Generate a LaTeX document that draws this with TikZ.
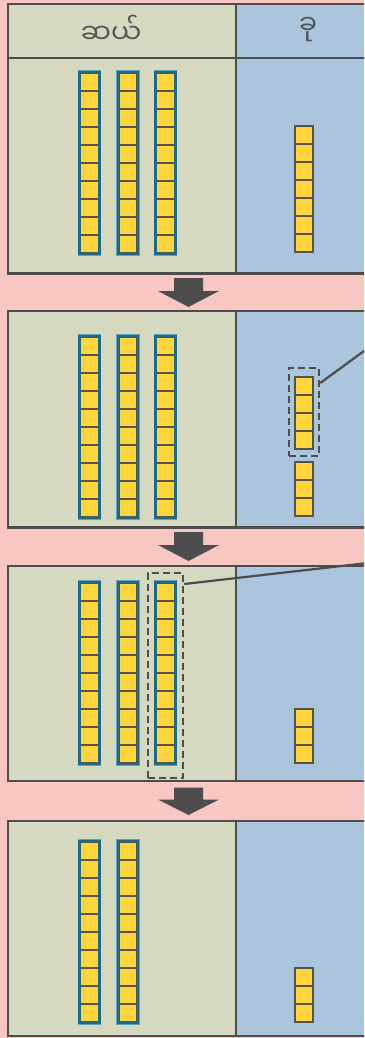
\documentclass[tikz,border=0pt]{standalone}
\usepackage{fontspec}
\newfontfamily\myan[Script=Myanmar]{Noto Sans Myanmar UI}
\definecolor{bgpink}{HTML}{F9C7C1}
\definecolor{tanfill}{HTML}{D5D9C0}
\definecolor{bluefill}{HTML}{ABC5DC}
\definecolor{edgegray}{HTML}{4D4D4D}
\definecolor{yel}{HTML}{FFD43D}
\definecolor{cellline}{HTML}{555550}
\definecolor{rodedge}{HTML}{1D6A86}
\definecolor{rodhalo}{HTML}{5FA3B6}
\definecolor{textgray}{HTML}{555555}
\tikzset{
  panelbox/.style={draw=edgegray, line width=2.4pt},
  cellbox/.style={fill=yel, draw=cellline, line width=1.1pt},
  dashbox/.style={draw=edgegray, line width=2.5pt, dash pattern=on 7pt off 4pt, inner sep=0pt},
  callout/.style={draw=edgegray, line width=2.2pt},
  downarrow/.style={fill=edgegray},
  headtext/.style={font=\myan\fontsize{27}{30}\selectfont, text=textgray, inner sep=0pt}
}
% rod: center x, top y
\newcommand{\tenrod}[2]{%
  \draw[rodhalo, line width=3.8pt] (#1-10,#2-1) rectangle (#1+10,#2+181);
  \foreach \k in {0,...,9}{\draw[cellbox] (#1-9,#2+18*\k) rectangle (#1+9,#2+18*\k+18);}
  \draw[rodedge, line width=2.2pt] (#1-10,#2-1) rectangle (#1+10,#2+181);
}
% units: center x, top y, count
\newcommand{\unitcol}[3]{%
  \foreach \k in {1,...,#3}{\draw[cellbox] (#1-9,#2+18*\k-18) rectangle (#1+9,#2+18*\k);}
}
\newcommand{\downarr}[3]{%
  \fill[downarrow] (174,#1) -- (203,#1) -- (203,#2) -- (219,#2) -- (188.5,#3) -- (158,#2) -- (174,#2) -- cycle;
}
\begin{document}
\begin{tikzpicture}[x=1pt,y=-1pt]
\useasboundingbox (0,0) rectangle (364,1038);
\clip (0,0) rectangle (364,1038);
\fill[bgpink] (0,0) rectangle (364,1038);
% header
\draw[panelbox, fill=tanfill] (8,4) rectangle (236,58);
\draw[panelbox, fill=bluefill] (236,4) rectangle (400,58);
\node[headtext] (hten) at (111,29) {ဆယ်};
\node[headtext] (hone) at (308,30) {ခု};
% panels
\foreach \t/\b in {58/273.5, 311/527.5, 566/781, 821/1036}{
  \draw[panelbox, fill=tanfill] (8,\t) rectangle (236,\b);
  \draw[panelbox, fill=bluefill] (236,\t) rectangle (400,\b);
}
% arrows
\downarr{278}{291}{307}
\downarr{532}{545}{561}
\downarr{787.5}{799.5}{815}
% panel 1
\tenrod{89.5}{73}\tenrod{128}{73}\tenrod{165.5}{73}
\unitcol{304}{126}{7}
% panel 2
\tenrod{89.5}{337}\tenrod{128}{337}\tenrod{165.5}{337}
\unitcol{304}{377}{4}
\unitcol{304}{462}{3}
\node[dashbox, minimum width=30pt, minimum height=88pt] (grpA) at (304,412) {};
\coordinate (endA) at (420,310);
\draw[callout] (grpA.east |- 0,383) -- (endA);
% panel 3
\tenrod{89.5}{583}\tenrod{128}{583}\tenrod{165.5}{583}
\unitcol{304}{709}{3}
\node[dashbox, minimum width=35pt, minimum height=205pt] (grpB) at (165.5,675.5) {};
\coordinate (endB) at (420,557);
\draw[callout] (grpB.east |- 0,584) -- (endB);
% panel 4
\tenrod{89.5}{842}\tenrod{128}{842}
\unitcol{304}{968}{3}
\end{tikzpicture}
\end{document}
